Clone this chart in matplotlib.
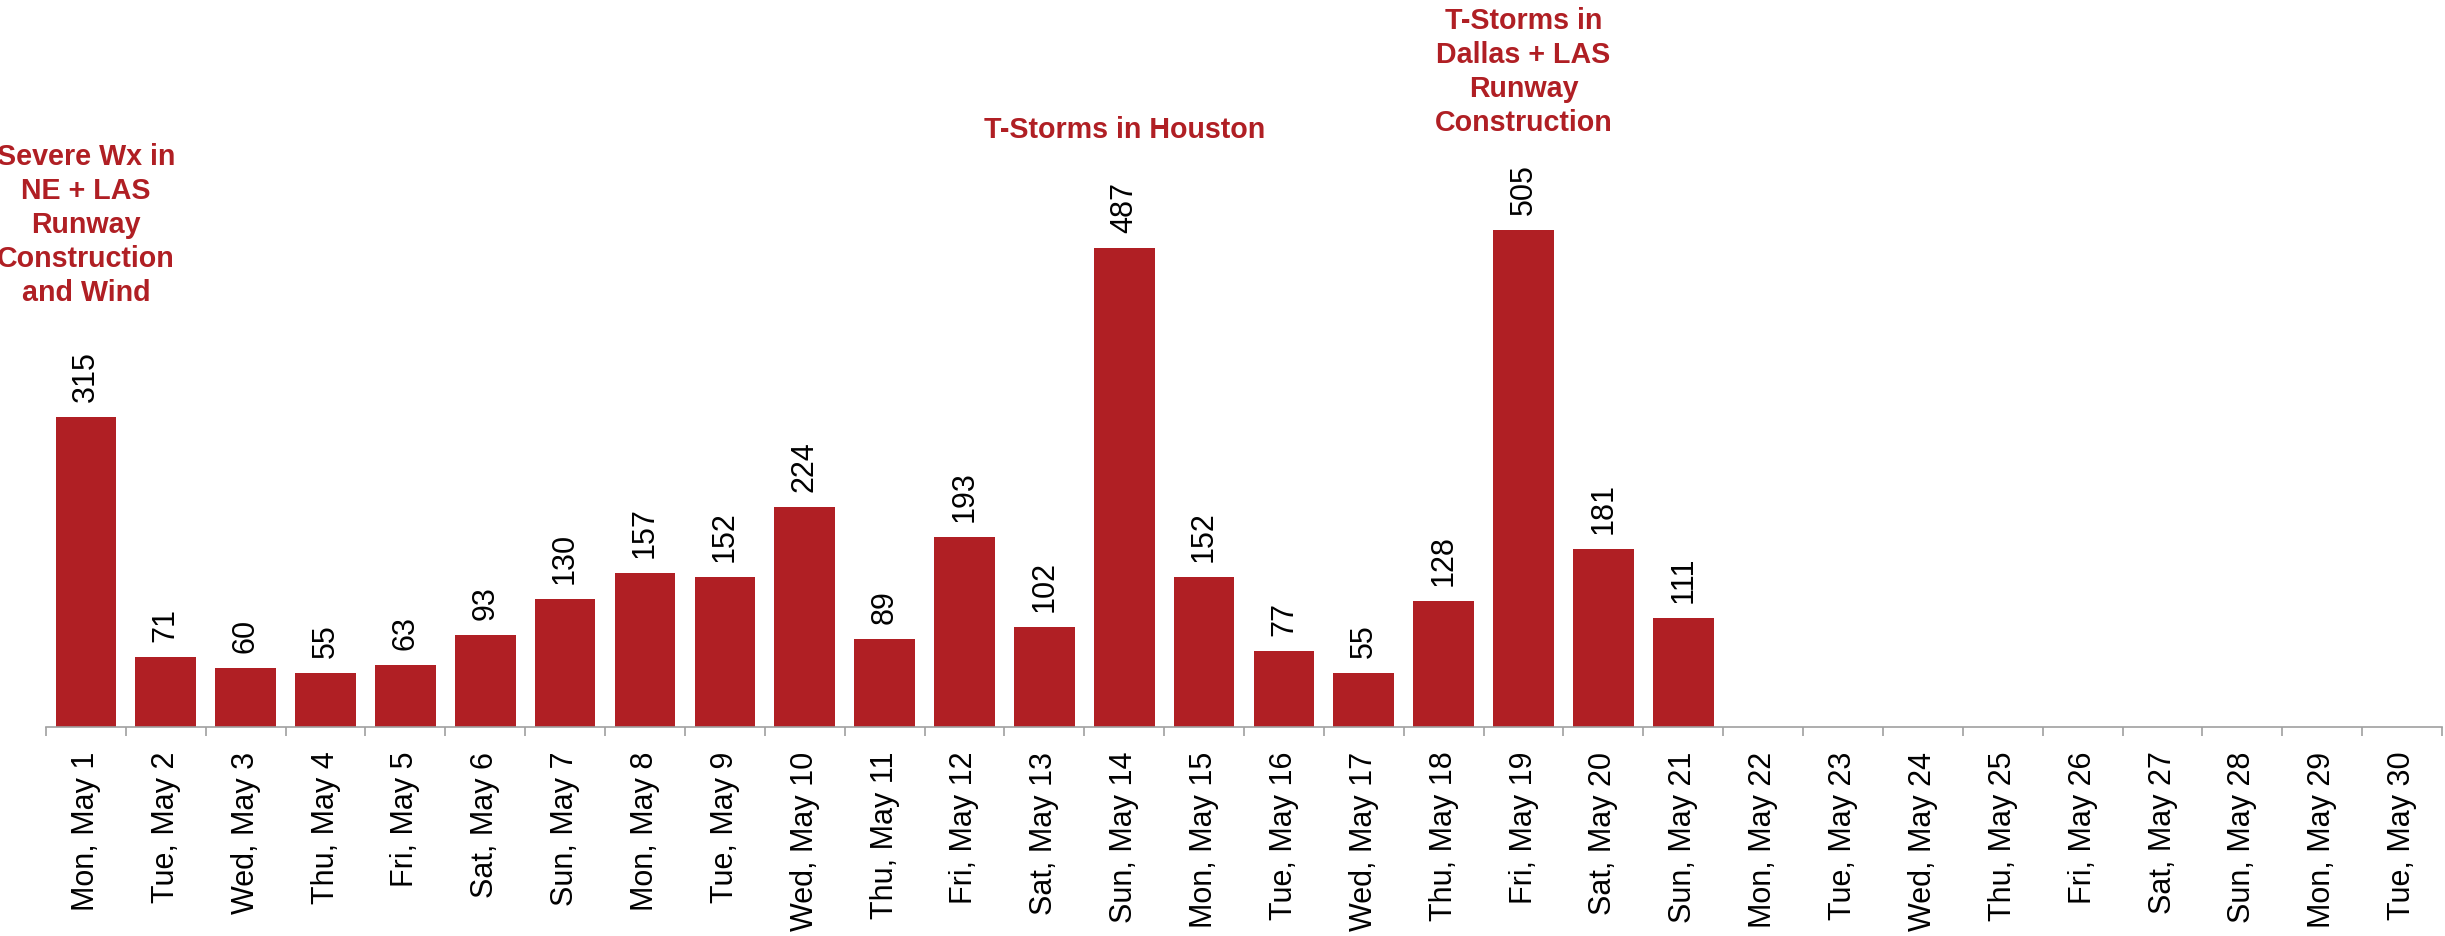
import matplotlib
matplotlib.use("Agg")
import matplotlib.pyplot as plt
import numpy as np

plt.rcParams['font.family'] = ['Liberation Sans', 'DejaVu Sans']

days = ['Mon', 'Tue', 'Wed', 'Thu', 'Fri', 'Sat', 'Sun'] * 5
dates = [f"{days[i]}, May {i + 1}" for i in range(30)]
counts = [315, 71, 60, 55, 63, 93, 130, 157, 152, 224, 89, 193, 102, 487,
          152, 77, 55, 128, 505, 181, 111]
notes = [
    (0, 511, "Severe Wx in\nNE + LAS\nRunway\nConstruction\nand Wind"),
    (13, 608, "T-Storms in Houston"),
    (18, 667, "T-Storms in\nDallas + LAS\nRunway\nConstruction"),
]

red = '#B01F24'

fig = plt.figure(figsize=(24.45, 9.37), dpi=100)
ax = fig.add_axes([0.0188, 0.2231, 0.98, 0.7769])

x = np.arange(len(counts))
bars = ax.bar(x, counts, width=0.76, color=red)

# value labels above each bar
for xi, v in zip(x, counts):
    ax.annotate(str(v), (xi, v), xytext=(0, 11.5), textcoords='offset points',
                rotation=90, ha='center', va='bottom', fontsize=22)

# event notes
for xi, y, txt in notes:
    ax.text(xi, y, txt, ha='center', va='center', fontsize=20.6,
            fontweight='bold', color=red, linespacing=1.27)

ax.set_xlim(-0.5, 29.5)
ax.set_ylim(0, 740)
ax.set_xticks(np.arange(30))
ax.set_xticklabels(dates, rotation=90, fontsize=22)
ax.tick_params(axis='x', which='major', length=0, pad=17)
ax.set_xticks(np.arange(31) - 0.5, minor=True)
ax.tick_params(axis='x', which='minor', length=6.5, color='#a0a0a0', width=1.2)
ax.set_yticks([])
for s in ['top', 'right', 'left']:
    ax.spines[s].set_visible(False)
ax.spines['bottom'].set_color('#a0a0a0')
ax.spines['bottom'].set_linewidth(1.2)

fig.savefig('out.png', dpi=100)
